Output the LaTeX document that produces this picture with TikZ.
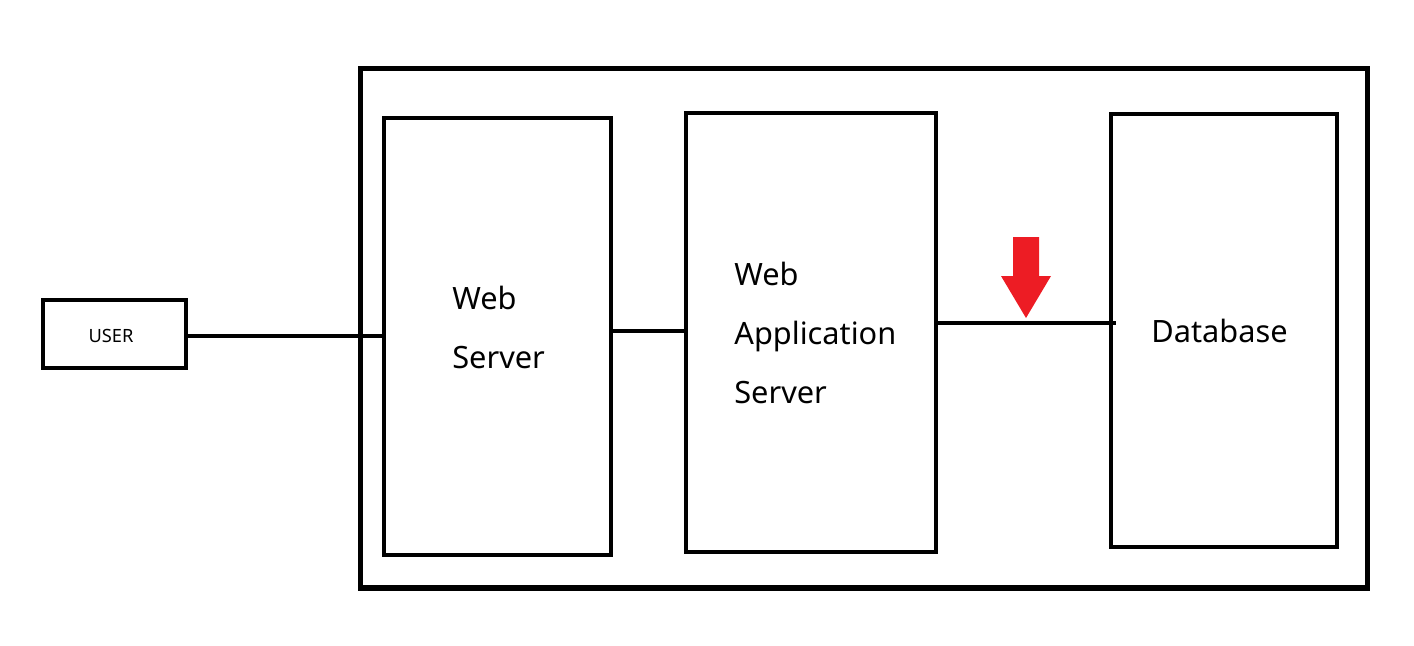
\documentclass[tikz,border=0pt]{standalone}
\usepackage{fontspec}
\setmainfont{Noto Sans}
\usepackage{xcolor}
\usepackage{tikz}
\definecolor{ink}{HTML}{000000}
\definecolor{alert}{HTML}{ED1C24}
\tikzset{
  box/.style={draw=ink, line width=2.7pt, inner sep=0pt, outer sep=0pt},
  wire/.style={draw=ink, line width=1.9pt},
  lab/.style={anchor=base west, inner sep=0pt, font=\fontsize{17.5}{20}\selectfont},
  labs/.style={font=\fontsize{10.4}{12}\selectfont}
}

\begin{document}
\begin{tikzpicture}[x=0.02cm, y=-0.02cm]
  \useasboundingbox (0,0) rectangle (1414,646);

  % outer frame
  \node[box, line width=2.9pt, minimum width=20.16cm, minimum height=10.4cm] (sys) at (864,328) {};

  \node[box, minimum width=2.86cm, minimum height=1.36cm] (usr) at (114.5,334) {};
  \node[box, minimum width=4.54cm, minimum height=8.74cm] (ws) at (497.5,336.5) {};
  \node[box, minimum width=5.0cm, minimum height=8.78cm] (was) at (811,332.5) {};
  \node[box, minimum width=4.52cm, minimum height=8.66cm] (db) at (1224,330.5) {};

  \node[labs, anchor=base] (usr-t) at (111,342) {USER};
  \node[lab] (ws-a) at (452,309) {Web};
  \node[lab] (ws-b) at (452,368) {Server};
  \node[lab] (was-a) at (734,285) {Web};
  \node[lab] (was-b) at (734,344) {Application};
  \node[lab] (was-c) at (734,403) {Server};
  \node[lab] (db-t) at (1151,342) {Database};

  % links
  \coordinate (usr-out) at ([yshift=-0.04cm]usr.east);
  \coordinate (ws-out) at ([yshift=0.11cm]ws.east);
  \coordinate (was-out) at ([yshift=0.19cm]was.east);
  \draw[wire] (usr-out) -- (usr-out -| ws.west);
  \draw[wire] (ws-out) -- (ws-out -| was.west);
  \draw[wire] (was-out) -- ([xshift=0.1cm]was-out -| db.west);

  % red marker
  \fill[alert] (1013,237) -- (1039,237) -- (1039,276) -- (1051,276)
    -- (1026,318) -- (1001,276) -- (1013,276) -- cycle;
\end{tikzpicture}
\end{document}
